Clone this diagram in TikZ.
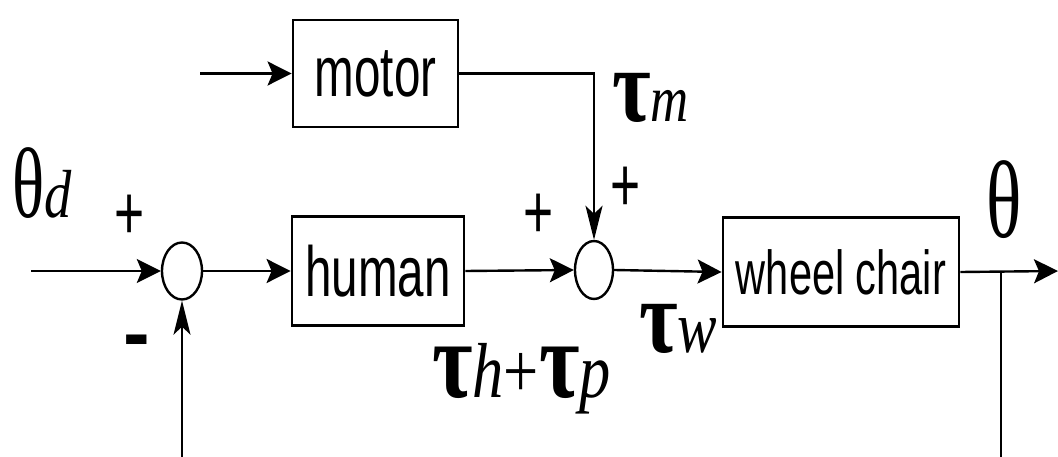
\documentclass[tikz,border=0pt]{standalone}
\usepackage{fontspec}
\setmainfont{Liberation Serif}
\newfontfamily\sansf{Liberation Sans}
\newfontfamily\seriff{Liberation Serif}
\usetikzlibrary{arrows.meta,shapes.geometric}
\newcommand{\cx}[1]{\scalebox{0.67}[1]{#1}}
\newcommand{\lx}[1]{\scalebox{0.8}[1]{#1}}
\newcommand{\fs}[1]{\fontsize{#1}{#1}\selectfont}
\tikzset{
  blockbox/.style={draw, line width=2.8pt, inner sep=0pt, font=\sansf\fs{71}},
  sumnode/.style={draw, ellipse, line width=2.4pt, minimum width=40pt, minimum height=57pt, inner sep=0pt},
  conn/.style={line width=2.4pt},
  harrow/.style={conn, -{Stealth[length=24pt,width=24pt,inset=5pt]}},
  varrow/.style={conn, -{Stealth[length=34pt,width=17pt,inset=8pt]}},
  fbline/.style={line width=2pt},
  sign/.style={font=\sansf\fs{77}, inner sep=0pt},
  lbl/.style={inner sep=0pt, anchor=base west, font=\seriff}
}
\begin{document}
\begin{tikzpicture}[x=1pt,y=-1pt]
\useasboundingbox (0,0) rectangle (1058,457);
% blocks
\node[blockbox, minimum width=165pt, minimum height=107pt] (motor) at (375.5,73.5) {\cx{motor}};
\node[blockbox, minimum width=172pt, minimum height=109pt] (human) at (378,271) {\cx{human}};
\node[blockbox, minimum width=236pt, minimum height=109pt, font=\sansf\fs{62}] (wc) at (841,272) {\cx{wheel chair}};
% summing junctions
\node[sumnode] (s1) at (182,271) {};
\node[sumnode, minimum width=38pt, minimum height=58pt] (s2) at (594,270) {};
% free ends
\coordinate (min) at (200,73.5);
\coordinate (in) at (31,271);
\coordinate (out) at (1058,271);
\coordinate (br) at (1001,271);
\coordinate (fbR) at (1001,457);
\coordinate (fbL) at (182,457);
% connectors
\draw[harrow] (min) -- (motor.west);
\draw[harrow] (in) -- (s1.west);
\draw[harrow] (s1.east) -- (human.west);
\draw[harrow] (human.east) -- (s2.west);
\draw[varrow] (motor.east) -| (s2.north);
\draw[harrow] (s2.east) -- (wc.west);
\draw[harrow] (wc.east) -- (out);
\draw[fbline] (br) -- (fbR);
\draw[varrow, line width=2pt] (fbL) -- (s1.south);
% signs
\node[sign] (p1) at (129.5,217) {\cx{+}};
\node[sign] (p2) at (539,216) {\cx{+}};
\node[sign] (p3) at (626,189) {\cx{+}};
\node[sign, font=\sansf\bfseries\fs{80}] (m1) at (137,348) {-};
% labels
\node[lbl] (thd) at (12,218) {\cx{\fs{100}θ}\lx{\fs{68}\itshape d}};
\node[lbl] (th) at (986,238) {\cx{\fs{110}θ}};
\node[lbl] (taum) at (612,122) {\lx{\fs{105}\bfseries τ}\lx{\fs{66}\itshape m}};
\node[lbl] (tauw) at (639,352) {\lx{\fs{105}\bfseries τ}\lx{\fs{74}\itshape w}};
\node[lbl] (tauhp) at (432,397) {\lx{\fs{110}\bfseries τ}\lx{\fs{78}\itshape h}\lx{\fs{78}+}\lx{\fs{110}\bfseries τ}\lx{\fs{78}\itshape p}};
\end{tikzpicture}
\end{document}
